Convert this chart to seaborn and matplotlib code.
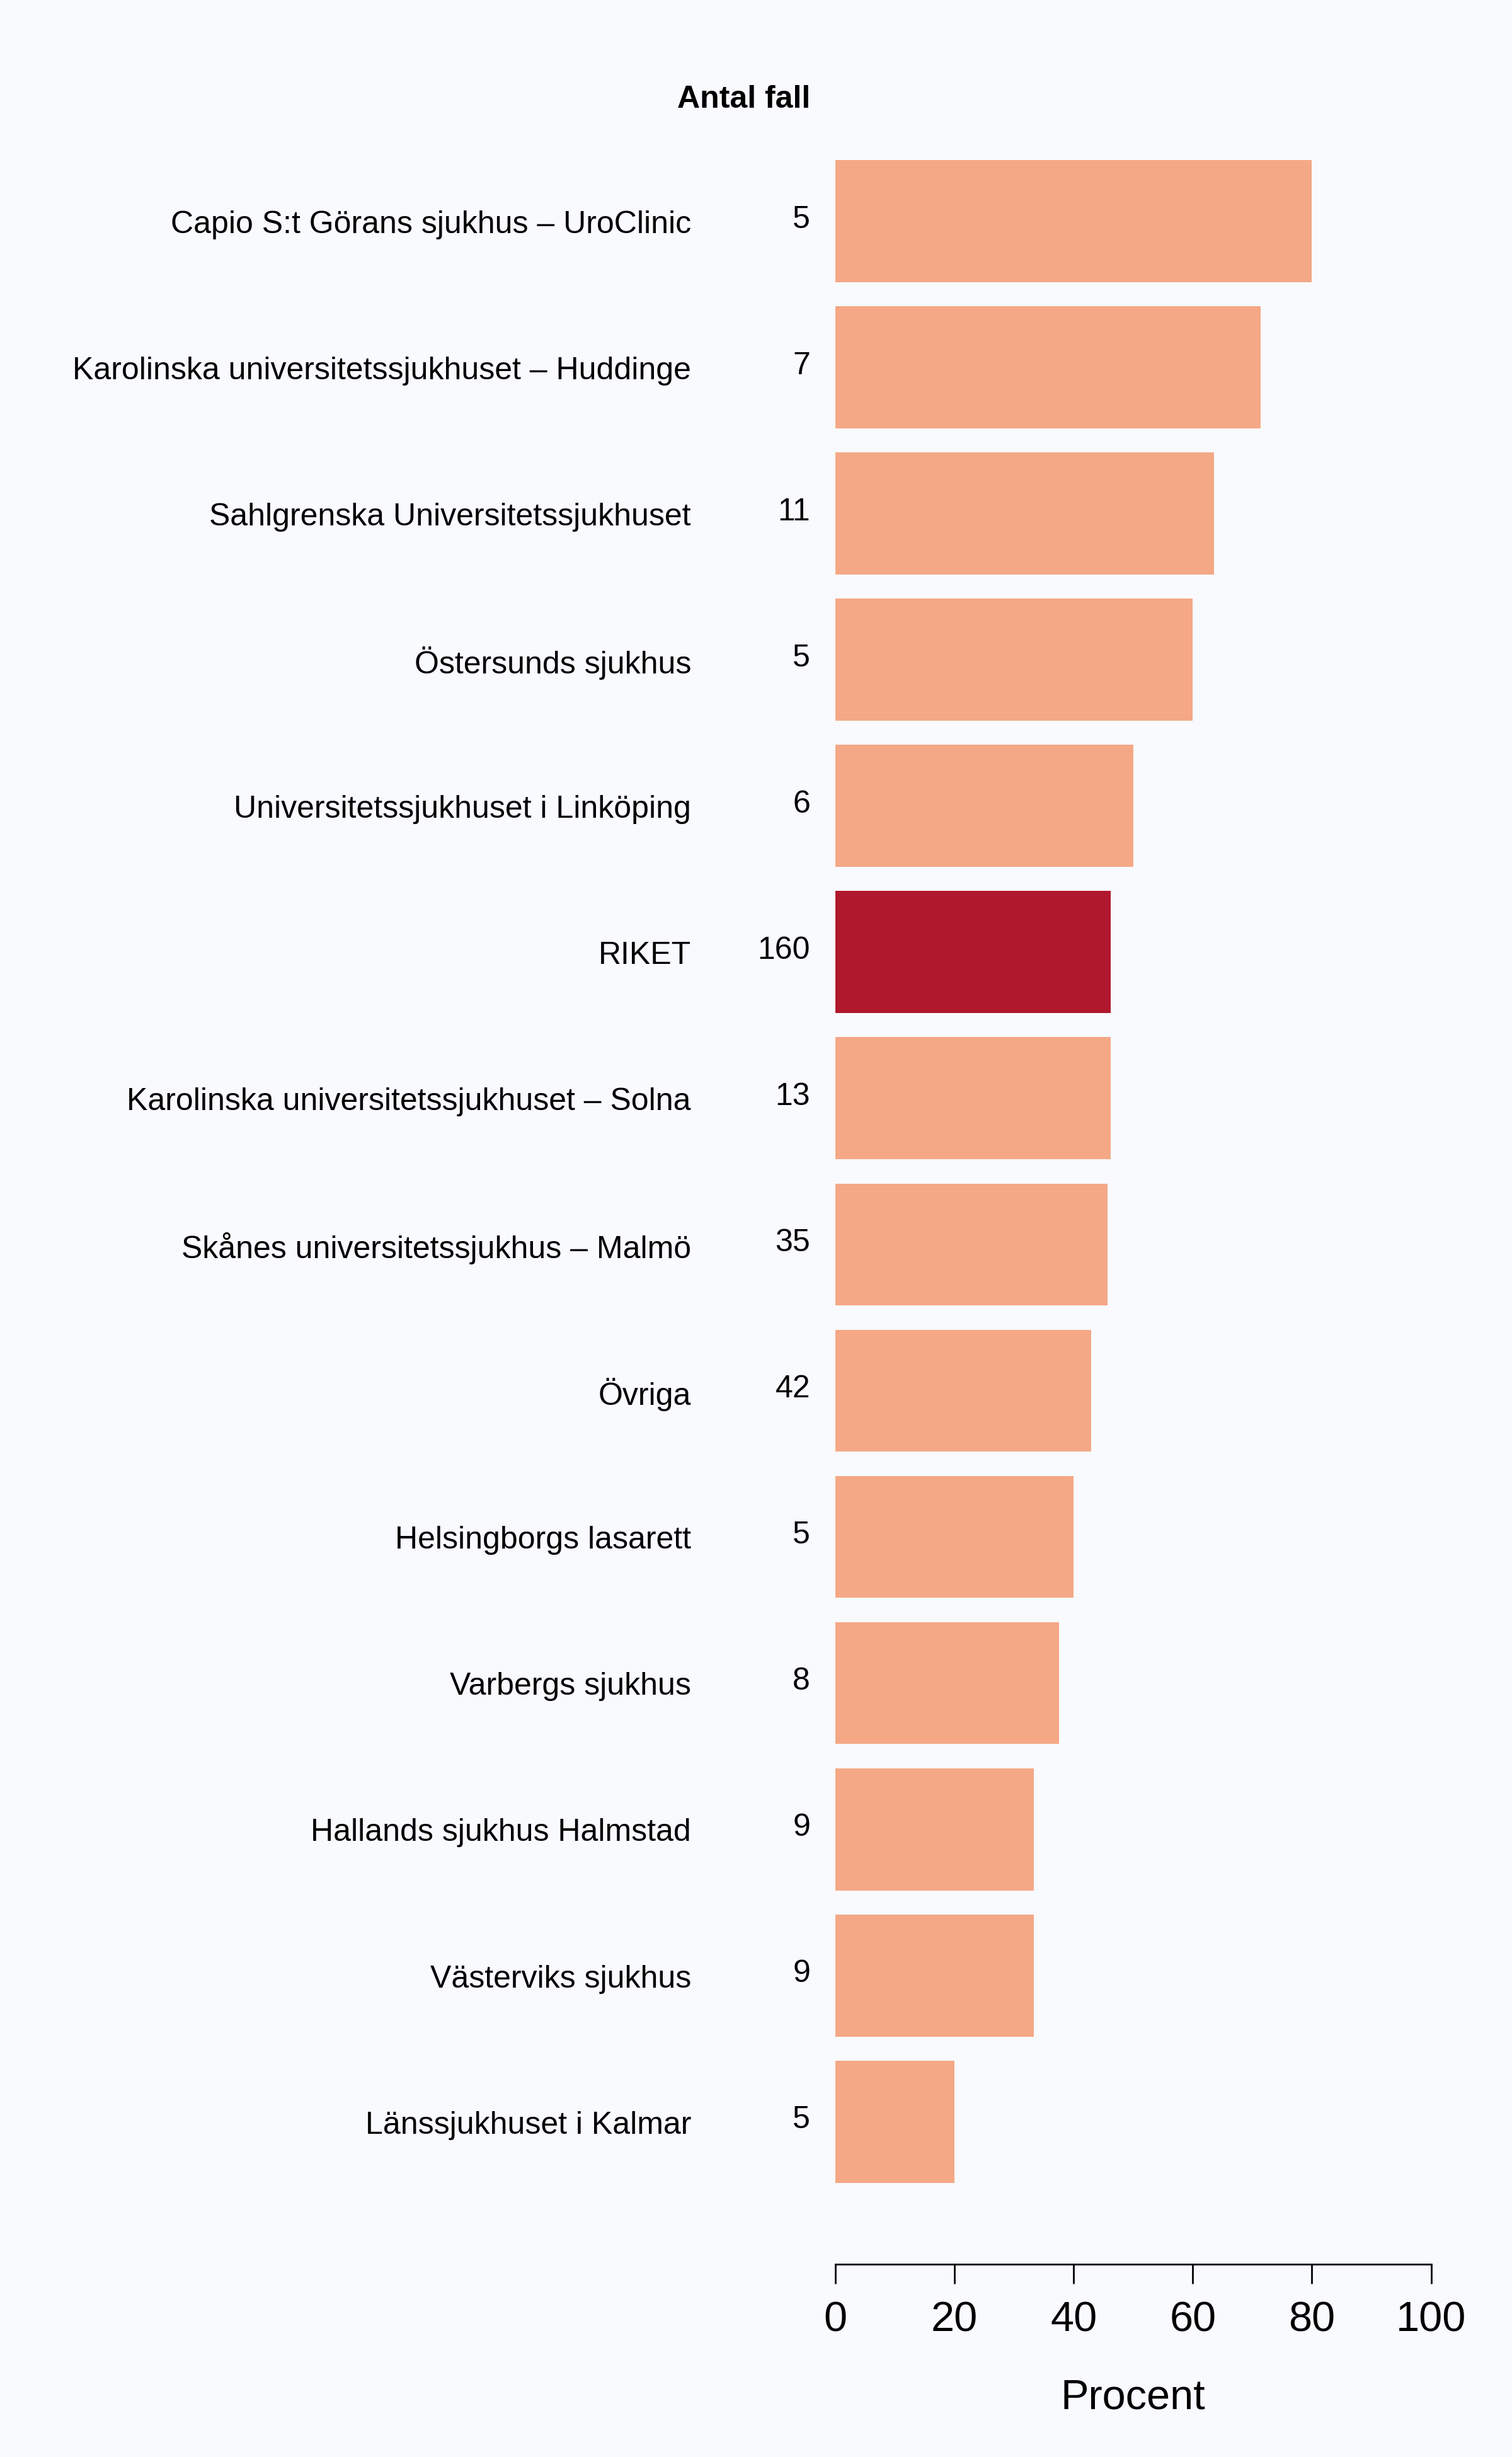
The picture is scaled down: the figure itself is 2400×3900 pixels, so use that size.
import numpy as np
import pandas as pd
import seaborn as sns
import matplotlib.pyplot as plt
from matplotlib.transforms import blended_transform_factory

# data
sjukhus = ["Capio S:t Görans sjukhus – UroClinic",
           "Karolinska universitetssjukhuset – Huddinge",
           "Sahlgrenska Universitetssjukhuset",
           "Östersunds sjukhus",
           "Universitetssjukhuset i Linköping",
           "RIKET",
           "Karolinska universitetssjukhuset – Solna",
           "Skånes universitetssjukhus – Malmö",
           "Övriga",
           "Helsingborgs lasarett",
           "Varbergs sjukhus",
           "Hallands sjukhus Halmstad",
           "Västerviks sjukhus",
           "Länssjukhuset i Kalmar"]
antal = [5, 7, 11, 5, 6, 160, 13, 35, 42, 5, 8, 9, 9, 5]
procent = [80.0, 71.4, 63.6, 60.0, 50.0, 46.25, 46.2, 45.7, 42.9, 40.0, 37.5, 33.3, 33.3, 20.0]

bg = "#F9FAFE"
bar_col = "#F4A886"
riket_col = "#B0182D"

sns.set_style("white")
plt.rcParams['font.family'] = ['Liberation Sans', 'DejaVu Sans']
plt.rcParams['text.color'] = 'black'
plt.rcParams['axes.labelcolor'] = 'black'
plt.rcParams['xtick.color'] = 'black'
plt.rcParams['ytick.color'] = 'black'

df = pd.DataFrame({"sjukhus": sjukhus, "antal": antal, "procent": procent})
pal = {s: (riket_col if s == "RIKET" else bar_col) for s in sjukhus}

fig = plt.figure(figsize=(12, 19.5), dpi=200, facecolor=bg)
ax = fig.add_axes([0.5525, 0.0785, 0.394, 0.8564])
ax.set_facecolor(bg)

sns.barplot(data=df, x="procent", y="sjukhus", hue="sjukhus", palette=pal,
            order=sjukhus, hue_order=sjukhus, width=0.835, saturation=1,
            legend=False, linewidth=0, ax=ax)

ax.set_xlim(0, 100)
ax.set_ylim(13.974, -0.418)
for s in ["top", "right", "left"]:
    ax.spines[s].set_visible(False)
ax.spines["bottom"].set_bounds(0, 100)
ax.spines["bottom"].set_linewidth(1.0)
ax.spines["bottom"].set_color("black")
ax.set_xticks([0, 20, 40, 60, 80, 100])
ax.tick_params(axis="x", length=11, width=1.0, pad=10, labelsize=24, bottom=True)
ax.set_xlabel("Procent", fontsize=24, labelpad=22)

ax.set_yticks([])
ax.set_ylabel("")

# hospital names and counts
tr = blended_transform_factory(ax.transAxes, ax.transData)
for i, (s, a) in enumerate(zip(sjukhus, antal)):
    ax.text(-0.2423, i + 0.025, s, transform=tr, ha="right", va="center", fontsize=18, clip_on=False)
    ax.text(-0.0423, i - 0.01, str(a), transform=tr, ha="right", va="center", fontsize=18, clip_on=False)

ax.text(-0.0423, -0.83, "Antal fall", transform=tr, ha="right", va="center",
        fontsize=18, fontweight="bold", clip_on=False)

fig.savefig("out.png", dpi=200, facecolor=bg)
